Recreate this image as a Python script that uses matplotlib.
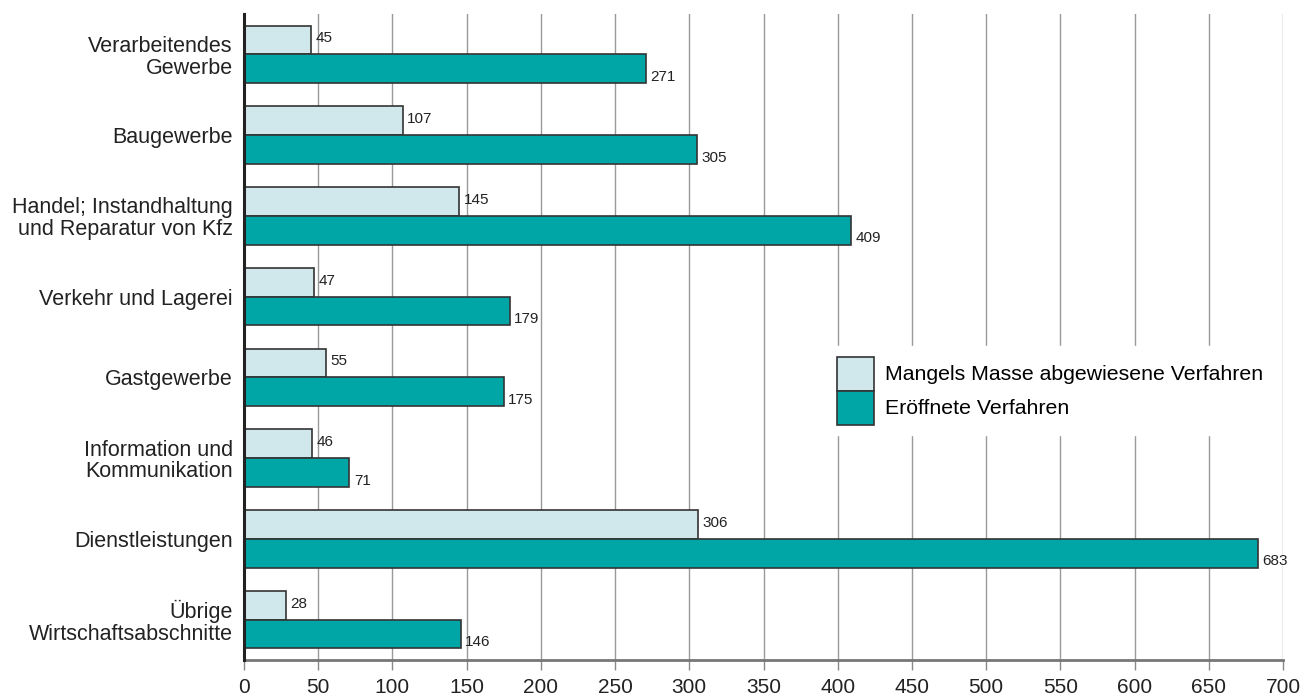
import matplotlib.pyplot as plt
import numpy as np
from matplotlib.patches import Patch

plt.rcParams['font.family'] = ['Liberation Sans', 'DejaVu Sans']

categories = ['Verarbeitendes\nGewerbe', 'Baugewerbe',
              'Handel; Instandhaltung\nund Reparatur von Kfz',
              'Verkehr und Lagerei', 'Gastgewerbe',
              'Information und\nKommunikation', 'Dienstleistungen',
              'Übrige\nWirtschaftsabschnitte']
abgewiesen = [45, 107, 145, 47, 55, 46, 306, 28]
eroeffnet = [271, 305, 409, 179, 175, 71, 683, 146]
xticks = list(range(0, 701, 50))

light = '#d0e7eb'
dark = '#00a6a6'
edge = '#333333'

fig = plt.figure(figsize=(13.09, 6.99), dpi=100)
ax = fig.add_axes([244 / 1309, 1 - 660 / 699, (1283 - 244) / 1309, (660 - 14) / 699])

y = np.arange(len(categories))
h = 0.355
ax.barh(y - h / 2, abgewiesen, height=h, color=light,
        edgecolor=edge, linewidth=1.2, zorder=3)
ax.barh(y + h / 2, eroeffnet, height=h, color=dark,
        edgecolor=edge, linewidth=1.2, zorder=3)

for yi, v in zip(y, abgewiesen):
    ax.text(v + 3, yi - h / 2 - 0.02, str(v), va='center', ha='left',
            fontsize=11, color='#222222')
for yi, v in zip(y, eroeffnet):
    ax.text(v + 3, yi + h / 2 + 0.1, str(v), va='center', ha='left',
            fontsize=11, color='#222222')

ax.set_xlim(0, 700)
ax.set_ylim(len(categories) - 0.5, -0.5)
ax.set_yticks(y)
ax.set_yticklabels(categories, fontsize=15.5, color='#222222', linespacing=1.05)
ax.tick_params(axis='y', length=0, pad=8)
ax.set_xticks(xticks)
ax.set_xticklabels([str(t) for t in xticks], fontsize=15, color='#222222')
ax.tick_params(axis='x', length=7, width=1, color='#888888', pad=6)

ax.grid(axis='x', color='#999999', linewidth=1, zorder=0)
for s in ['top', 'right']:
    ax.spines[s].set_visible(False)
ax.spines['left'].set_color('#222222')
ax.spines['left'].set_linewidth(2.2)
ax.spines['left'].set_zorder(4)
ax.spines['bottom'].set_color('#777777')
ax.spines['bottom'].set_linewidth(2)

handles = [Patch(facecolor=light, edgecolor=edge, linewidth=1.2),
           Patch(facecolor=dark, edgecolor=edge, linewidth=1.2)]
leg = ax.legend(handles, ['Mangels Masse abgewiesene Verfahren', 'Eröffnete Verfahren'],
                loc='upper left', bbox_to_anchor=(826 / 1309, 1 - 346 / 699),
                bbox_transform=fig.transFigure, borderaxespad=0,
                frameon=True, fontsize=15.3, handlelength=1.77, handleheight=2.09,
                labelspacing=0.0, borderpad=0.5, handletextpad=0.5,
                framealpha=1, edgecolor='white', fancybox=False)
leg.set_zorder(5)

fig.savefig('out.png', dpi=100)
